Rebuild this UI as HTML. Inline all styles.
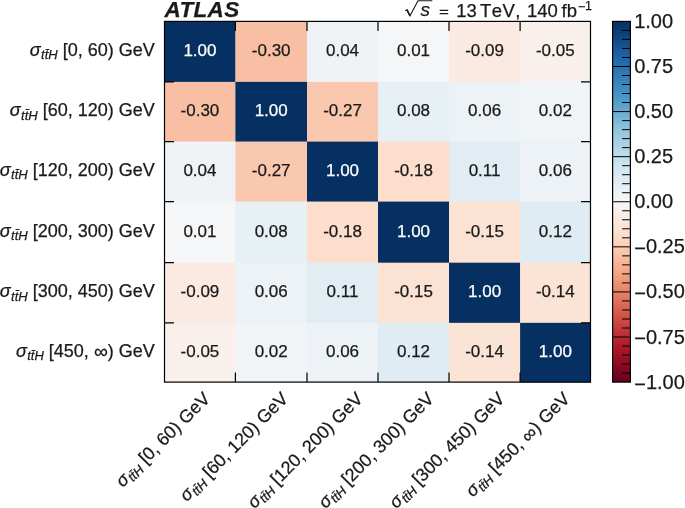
<!DOCTYPE html><html><head><meta charset="utf-8"><style>html,body{margin:0;padding:0;background:#fff;}svg{display:block;filter:blur(0.3px);}text{font-family:"Liberation Sans",sans-serif;stroke:#1a1a1a;stroke-width:0.25px;}text[fill="#fff"]{stroke:#fff;}</style></head><body>
<svg width="685" height="508" viewBox="0 0 685 508">
<defs><linearGradient id="cb" x1="0" y1="1" x2="0" y2="0">
<stop offset="0.000" stop-color="#67001f"/>
<stop offset="0.050" stop-color="#8a0b25"/>
<stop offset="0.100" stop-color="#b1182b"/>
<stop offset="0.150" stop-color="#c43b3c"/>
<stop offset="0.200" stop-color="#d6604d"/>
<stop offset="0.250" stop-color="#e58368"/>
<stop offset="0.300" stop-color="#f3a481"/>
<stop offset="0.350" stop-color="#f8bfa4"/>
<stop offset="0.400" stop-color="#fddbc7"/>
<stop offset="0.450" stop-color="#fae9df"/>
<stop offset="0.500" stop-color="#f6f7f7"/>
<stop offset="0.550" stop-color="#e4eef4"/>
<stop offset="0.600" stop-color="#d1e5f0"/>
<stop offset="0.650" stop-color="#b1d5e7"/>
<stop offset="0.700" stop-color="#90c4dd"/>
<stop offset="0.750" stop-color="#68abd0"/>
<stop offset="0.800" stop-color="#4393c3"/>
<stop offset="0.850" stop-color="#327cb7"/>
<stop offset="0.900" stop-color="#2065ab"/>
<stop offset="0.950" stop-color="#124984"/>
<stop offset="1.000" stop-color="#053061"/>
</linearGradient></defs>
<rect x="164.50" y="21.40" width="71.20" height="60.80" fill="#053061"/>
<rect x="235.40" y="21.40" width="71.90" height="60.80" fill="#f8bfa4"/>
<rect x="307.00" y="21.40" width="71.30" height="60.80" fill="#eff3f5"/>
<rect x="378.00" y="21.40" width="71.30" height="60.80" fill="#f5f6f7"/>
<rect x="449.00" y="21.40" width="71.40" height="60.80" fill="#faeae1"/>
<rect x="520.10" y="21.40" width="70.70" height="60.80" fill="#f9f0eb"/>
<rect x="164.50" y="81.90" width="71.20" height="60.00" fill="#f8bfa4"/>
<rect x="235.40" y="81.90" width="71.90" height="60.00" fill="#053061"/>
<rect x="307.00" y="81.90" width="71.30" height="60.00" fill="#fac8af"/>
<rect x="378.00" y="81.90" width="71.30" height="60.00" fill="#e7f0f4"/>
<rect x="449.00" y="81.90" width="71.40" height="60.00" fill="#ecf2f5"/>
<rect x="520.10" y="81.90" width="70.70" height="60.00" fill="#f0f4f6"/>
<rect x="164.50" y="141.60" width="71.20" height="60.30" fill="#eff3f5"/>
<rect x="235.40" y="141.60" width="71.90" height="60.30" fill="#fac8af"/>
<rect x="307.00" y="141.60" width="71.30" height="60.30" fill="#053061"/>
<rect x="378.00" y="141.60" width="71.30" height="60.30" fill="#fdddcb"/>
<rect x="449.00" y="141.60" width="71.40" height="60.30" fill="#e1edf3"/>
<rect x="520.10" y="141.60" width="70.70" height="60.30" fill="#ecf2f5"/>
<rect x="164.50" y="201.60" width="71.20" height="61.40" fill="#f5f6f7"/>
<rect x="235.40" y="201.60" width="71.90" height="61.40" fill="#e7f0f4"/>
<rect x="307.00" y="201.60" width="71.30" height="61.40" fill="#fdddcb"/>
<rect x="378.00" y="201.60" width="71.30" height="61.40" fill="#053061"/>
<rect x="449.00" y="201.60" width="71.40" height="61.40" fill="#fce2d2"/>
<rect x="520.10" y="201.60" width="70.70" height="61.40" fill="#e0ecf3"/>
<rect x="164.50" y="262.70" width="71.20" height="60.45" fill="#faeae1"/>
<rect x="235.40" y="262.70" width="71.90" height="60.45" fill="#ecf2f5"/>
<rect x="307.00" y="262.70" width="71.30" height="60.45" fill="#e1edf3"/>
<rect x="378.00" y="262.70" width="71.30" height="60.45" fill="#fce2d2"/>
<rect x="449.00" y="262.70" width="71.40" height="60.45" fill="#053061"/>
<rect x="520.10" y="262.70" width="70.70" height="60.45" fill="#fbe4d6"/>
<rect x="164.50" y="322.85" width="71.20" height="59.55" fill="#f9f0eb"/>
<rect x="235.40" y="322.85" width="71.90" height="59.55" fill="#f0f4f6"/>
<rect x="307.00" y="322.85" width="71.30" height="59.55" fill="#ecf2f5"/>
<rect x="378.00" y="322.85" width="71.30" height="59.55" fill="#e0ecf3"/>
<rect x="449.00" y="322.85" width="71.40" height="59.55" fill="#fbe4d6"/>
<rect x="520.10" y="322.85" width="70.70" height="59.55" fill="#053061"/>
<text x="199.95" y="56.25" font-size="17" text-anchor="middle" fill="#fff">1.00</text>
<text x="271.20" y="56.25" font-size="17" text-anchor="middle" fill="#1a1a1a">-0.30</text>
<text x="342.50" y="56.25" font-size="17" text-anchor="middle" fill="#1a1a1a">0.04</text>
<text x="413.50" y="56.25" font-size="17" text-anchor="middle" fill="#1a1a1a">0.01</text>
<text x="484.55" y="56.25" font-size="17" text-anchor="middle" fill="#1a1a1a">-0.09</text>
<text x="555.30" y="56.25" font-size="17" text-anchor="middle" fill="#1a1a1a">-0.05</text>
<text x="199.95" y="116.35" font-size="17" text-anchor="middle" fill="#1a1a1a">-0.30</text>
<text x="271.20" y="116.35" font-size="17" text-anchor="middle" fill="#fff">1.00</text>
<text x="342.50" y="116.35" font-size="17" text-anchor="middle" fill="#1a1a1a">-0.27</text>
<text x="413.50" y="116.35" font-size="17" text-anchor="middle" fill="#1a1a1a">0.08</text>
<text x="484.55" y="116.35" font-size="17" text-anchor="middle" fill="#1a1a1a">0.06</text>
<text x="555.30" y="116.35" font-size="17" text-anchor="middle" fill="#1a1a1a">0.02</text>
<text x="199.95" y="176.20" font-size="17" text-anchor="middle" fill="#1a1a1a">0.04</text>
<text x="271.20" y="176.20" font-size="17" text-anchor="middle" fill="#1a1a1a">-0.27</text>
<text x="342.50" y="176.20" font-size="17" text-anchor="middle" fill="#fff">1.00</text>
<text x="413.50" y="176.20" font-size="17" text-anchor="middle" fill="#1a1a1a">-0.18</text>
<text x="484.55" y="176.20" font-size="17" text-anchor="middle" fill="#1a1a1a">0.11</text>
<text x="555.30" y="176.20" font-size="17" text-anchor="middle" fill="#1a1a1a">0.06</text>
<text x="199.95" y="236.75" font-size="17" text-anchor="middle" fill="#1a1a1a">0.01</text>
<text x="271.20" y="236.75" font-size="17" text-anchor="middle" fill="#1a1a1a">0.08</text>
<text x="342.50" y="236.75" font-size="17" text-anchor="middle" fill="#1a1a1a">-0.18</text>
<text x="413.50" y="236.75" font-size="17" text-anchor="middle" fill="#fff">1.00</text>
<text x="484.55" y="236.75" font-size="17" text-anchor="middle" fill="#1a1a1a">-0.15</text>
<text x="555.30" y="236.75" font-size="17" text-anchor="middle" fill="#1a1a1a">0.12</text>
<text x="199.95" y="297.38" font-size="17" text-anchor="middle" fill="#1a1a1a">-0.09</text>
<text x="271.20" y="297.38" font-size="17" text-anchor="middle" fill="#1a1a1a">0.06</text>
<text x="342.50" y="297.38" font-size="17" text-anchor="middle" fill="#1a1a1a">0.11</text>
<text x="413.50" y="297.38" font-size="17" text-anchor="middle" fill="#1a1a1a">-0.15</text>
<text x="484.55" y="297.38" font-size="17" text-anchor="middle" fill="#fff">1.00</text>
<text x="555.30" y="297.38" font-size="17" text-anchor="middle" fill="#1a1a1a">-0.14</text>
<text x="199.95" y="357.08" font-size="17" text-anchor="middle" fill="#1a1a1a">-0.05</text>
<text x="271.20" y="357.08" font-size="17" text-anchor="middle" fill="#1a1a1a">0.02</text>
<text x="342.50" y="357.08" font-size="17" text-anchor="middle" fill="#1a1a1a">0.06</text>
<text x="413.50" y="357.08" font-size="17" text-anchor="middle" fill="#1a1a1a">0.12</text>
<text x="484.55" y="357.08" font-size="17" text-anchor="middle" fill="#1a1a1a">-0.14</text>
<text x="555.30" y="357.08" font-size="17" text-anchor="middle" fill="#fff">1.00</text>
<rect x="164.50" y="21.40" width="426.00" height="360.70" fill="none" stroke="#000" stroke-width="1.2"/>
<path d="M235.40 21.40V30.90M235.40 382.10V372.60M164.50 81.90H174.00M590.50 81.90H581.00M307.00 21.40V30.90M307.00 382.10V372.60M164.50 141.60H174.00M590.50 141.60H581.00M378.00 21.40V30.90M378.00 382.10V372.60M164.50 201.60H174.00M590.50 201.60H581.00M449.00 21.40V30.90M449.00 382.10V372.60M164.50 262.70H174.00M590.50 262.70H581.00M520.10 21.40V30.90M520.10 382.10V372.60M164.50 322.85H174.00M590.50 322.85H581.00" stroke="#000" stroke-width="1.2" fill="none"/>
<text x="154.8" y="56.25" font-size="18" text-anchor="end" fill="#1a1a1a"><tspan font-style="italic">σ</tspan><tspan font-style="italic" font-size="13" dy="3.2" dx="0.4">t</tspan><tspan font-style="italic" font-size="13">t̄H</tspan><tspan dy="-3.2"> [0, 60) GeV</tspan></text>
<text x="154.8" y="116.35" font-size="18" text-anchor="end" fill="#1a1a1a"><tspan font-style="italic">σ</tspan><tspan font-style="italic" font-size="13" dy="3.2" dx="0.4">t</tspan><tspan font-style="italic" font-size="13">t̄H</tspan><tspan dy="-3.2"> [60, 120) GeV</tspan></text>
<text x="154.8" y="176.20" font-size="18" text-anchor="end" fill="#1a1a1a"><tspan font-style="italic">σ</tspan><tspan font-style="italic" font-size="13" dy="3.2" dx="0.4">t</tspan><tspan font-style="italic" font-size="13">t̄H</tspan><tspan dy="-3.2"> [120, 200) GeV</tspan></text>
<text x="154.8" y="236.75" font-size="18" text-anchor="end" fill="#1a1a1a"><tspan font-style="italic">σ</tspan><tspan font-style="italic" font-size="13" dy="3.2" dx="0.4">t</tspan><tspan font-style="italic" font-size="13">t̄H</tspan><tspan dy="-3.2"> [200, 300) GeV</tspan></text>
<text x="154.8" y="297.38" font-size="18" text-anchor="end" fill="#1a1a1a"><tspan font-style="italic">σ</tspan><tspan font-style="italic" font-size="13" dy="3.2" dx="0.4">t</tspan><tspan font-style="italic" font-size="13">t̄H</tspan><tspan dy="-3.2"> [300, 450) GeV</tspan></text>
<text x="154.8" y="357.08" font-size="18" text-anchor="end" fill="#1a1a1a"><tspan font-style="italic">σ</tspan><tspan font-style="italic" font-size="13" dy="3.2" dx="0.4">t</tspan><tspan font-style="italic" font-size="13">t̄H</tspan><tspan dy="-3.2"> [450, <tspan font-size="19.5" dy="1.3">∞</tspan><tspan dy="-1.3">) GeV</tspan></tspan></text>
<text transform="translate(211.16 399.66) rotate(-45)" font-size="18" text-anchor="end" fill="#1a1a1a"><tspan font-style="italic">σ</tspan><tspan font-style="italic" font-size="13" dy="3.2" dx="0.4">t</tspan><tspan font-style="italic" font-size="13">t̄H</tspan><tspan dy="-3.2"> [0, 60) GeV</tspan></text>
<text transform="translate(289.16 399.66) rotate(-45)" font-size="18" text-anchor="end" fill="#1a1a1a"><tspan font-style="italic">σ</tspan><tspan font-style="italic" font-size="13" dy="3.2" dx="0.4">t</tspan><tspan font-style="italic" font-size="13">t̄H</tspan><tspan dy="-3.2"> [60, 120) GeV</tspan></text>
<text transform="translate(363.96 399.66) rotate(-45)" font-size="18" text-anchor="end" fill="#1a1a1a"><tspan font-style="italic">σ</tspan><tspan font-style="italic" font-size="13" dy="3.2" dx="0.4">t</tspan><tspan font-style="italic" font-size="13">t̄H</tspan><tspan dy="-3.2"> [120, 200) GeV</tspan></text>
<text transform="translate(434.96 399.66) rotate(-45)" font-size="18" text-anchor="end" fill="#1a1a1a"><tspan font-style="italic">σ</tspan><tspan font-style="italic" font-size="13" dy="3.2" dx="0.4">t</tspan><tspan font-style="italic" font-size="13">t̄H</tspan><tspan dy="-3.2"> [200, 300) GeV</tspan></text>
<text transform="translate(505.86 399.66) rotate(-45)" font-size="18" text-anchor="end" fill="#1a1a1a"><tspan font-style="italic">σ</tspan><tspan font-style="italic" font-size="13" dy="3.2" dx="0.4">t</tspan><tspan font-style="italic" font-size="13">t̄H</tspan><tspan dy="-3.2"> [300, 450) GeV</tspan></text>
<text transform="translate(570.86 399.66) rotate(-45)" font-size="18" text-anchor="end" fill="#1a1a1a"><tspan font-style="italic">σ</tspan><tspan font-style="italic" font-size="13" dy="3.2" dx="0.4">t</tspan><tspan font-style="italic" font-size="13">t̄H</tspan><tspan dy="-3.2"> [450, <tspan font-size="19.5" dy="1.3">∞</tspan><tspan dy="-1.3">) GeV</tspan></tspan></text>
<text x="164.5" y="16.9" font-size="22.5" font-weight="bold" font-style="italic" letter-spacing="0.35" fill="#1a1a1a">ATLAS</text>
<path d="M405.2 10.9L406.9 9.7L410.0 15.8L418.0 0.7H432.3" stroke="#1a1a1a" stroke-width="1.1" fill="none" stroke-linejoin="miter"/>
<path d="M406.9 9.7L410.0 15.8" stroke="#1a1a1a" stroke-width="1.6" fill="none"/>
<path d="M439.7 10.4H448.2M439.7 13.6H448.2" stroke="#1a1a1a" stroke-width="1.1" fill="none"/>
<g font-size="18.5" fill="#1a1a1a" style="font-kerning:none">
<text x="420.5" y="16.0" font-size="19" font-style="italic">s</text>
<text x="456.3" y="16.6">13</text>
<text x="480.0" y="16.6" letter-spacing="0.4">TeV,</text>
<text x="526.9" y="16.6">140</text>
<text x="561.6" y="16.6">fb</text>
<text x="578.05" y="10.5" font-size="12.5">−</text>
<text x="585.1" y="9.7" font-size="12.5">1</text>
</g>
<rect x="612.60" y="21.40" width="17.80" height="360.70" fill="url(#cb)"/>
<path d="M622.10 30.42H630.40M622.10 39.44H630.40M622.10 48.45H630.40M622.10 57.47H630.40M612.60 66.49H630.40M622.10 75.50H630.40M622.10 84.52H630.40M622.10 93.54H630.40M622.10 102.56H630.40M612.60 111.58H630.40M622.10 120.59H630.40M622.10 129.61H630.40M622.10 138.63H630.40M622.10 147.65H630.40M612.60 156.66H630.40M622.10 165.68H630.40M622.10 174.70H630.40M622.10 183.72H630.40M622.10 192.73H630.40M612.60 201.75H630.40M622.10 210.77H630.40M622.10 219.79H630.40M622.10 228.80H630.40M622.10 237.82H630.40M612.60 246.84H630.40M622.10 255.86H630.40M622.10 264.87H630.40M622.10 273.89H630.40M622.10 282.91H630.40M612.60 291.93H630.40M622.10 300.94H630.40M622.10 309.96H630.40M622.10 318.98H630.40M622.10 328.00H630.40M612.60 337.01H630.40M622.10 346.03H630.40M622.10 355.05H630.40M622.10 364.07H630.40M622.10 373.08H630.40" stroke="#000" stroke-width="1" fill="none"/>
<rect x="612.60" y="21.40" width="17.80" height="360.70" fill="none" stroke="#000" stroke-width="1.2"/>
<text x="634.20" y="27.90" font-size="20" fill="#1a1a1a">1.00</text>
<text x="634.20" y="72.99" font-size="20" fill="#1a1a1a">0.75</text>
<text x="634.20" y="118.08" font-size="20" fill="#1a1a1a">0.50</text>
<text x="634.20" y="163.16" font-size="20" fill="#1a1a1a">0.25</text>
<text x="634.20" y="208.25" font-size="20" fill="#1a1a1a">0.00</text>
<text x="634.20" y="253.34" font-size="20" fill="#1a1a1a"><tspan dy="1.9">−</tspan><tspan dy="-1.9">0.25</tspan></text>
<text x="634.20" y="298.43" font-size="20" fill="#1a1a1a"><tspan dy="1.9">−</tspan><tspan dy="-1.9">0.50</tspan></text>
<text x="634.20" y="343.51" font-size="20" fill="#1a1a1a"><tspan dy="1.9">−</tspan><tspan dy="-1.9">0.75</tspan></text>
<text x="634.20" y="388.60" font-size="20" fill="#1a1a1a"><tspan dy="1.9">−</tspan><tspan dy="-1.9">1.00</tspan></text>
</svg></body></html>
